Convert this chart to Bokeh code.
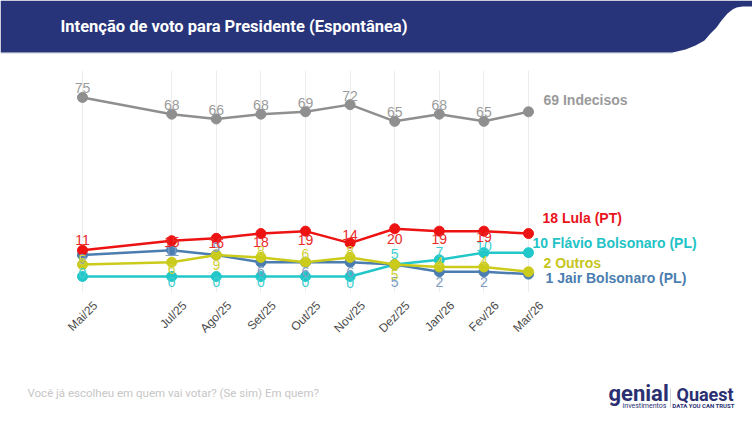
import math
from bokeh.plotting import figure
from bokeh.models import Range1d, LinearAxis, FixedTicker, ColumnDataSource, Grid
from bokeh.layouts import column
from bokeh.embed import file_html
from bokeh.resources import INLINE
from bokeh.core.properties import value

# ---------------- data ----------------
months = [0, 2, 3, 4, 5, 6, 7, 8, 9, 10]
month_labels = ["Mai/25", "Jul/25", "Ago/25", "Set/25", "Out/25",
                "Nov/25", "Dez/25", "Jan/26", "Fev/26", "Mar/26"]
indecisos = [75, 68, 66, 68, 69, 72, 65, 68, 65, 69]
lula = [11, 15, 16, 18, 19, 14, 20, 19, 19, 18]
flavio = [0, 0, 0, 0, 0, 0, 5, 7, 10, 10]
outros = [5, 6, 9, 8, 6, 8, 5, 4, 4, 2]
jair = [9, 11, 9, 6, 6, 6, 5, 2, 2, 1]
series_names = ["Indecisos", "Lula (PT)", "Flávio Bolsonaro (PL)", "Outros", "Jair Bolsonaro (PL)"]
title_text = "Intenção de voto para Presidente (Espontânea)"
question_text = "Você já escolheu em quem vai votar? (Se sim) Em quem?"

# ---------------- styles ----------------
series = [
    # values, name, line color, label color, end label color, label offsets (px, +down), end dx, end dy
    (flavio, series_names[2], "#22c7c9", "#3fcfd1", "#22c3c6", [-4, 5, 5, 5, 5, 6, -11, -8, -7], 4, -10),
    (jair, series_names[4], "#4b7db0", "#7d9dc4", "#4b7db0", [4, 1, -8, 9, 10, 10, 17, 10, 10], 17, 4),
    (outros, series_names[3], "#cbcb1c", "#d2d23a", "#c6c61c", [-5, 7, 10, -6, -8, -6, 10, -5, -6], 15, -9),
    (lula, series_names[1], "#ee1313", "#ea2a2a", "#e8141c", [-10, 1, 5, 8, 9, -8, 10, 8, 6], 14, -16),
    (indecisos, series_names[0], "#8f8f8f", "#9b9b9b", "#9a9a9a", [-9] * 9, 15, -12),
]

W = 752
HEADER_H = 54
CHART_H = 316
FOOTER_H = 53
NAVY = "#28347a"

def blank(h, xr, yr):
    f = figure(width=W, height=h, output_backend="svg", toolbar_location=None,
               x_range=xr, y_range=yr, x_axis_location=None, y_axis_location=None,
               min_border=0, outline_line_color=None, title=None)
    f.grid.visible = False
    f.background_fill_color = "white"
    f.border_fill_color = "white"
    return f

# ---------------- header ----------------
header = blank(HEADER_H, Range1d(0, W), Range1d(0, HEADER_H))
def hy(page_y):
    return HEADER_H - page_y

edge_x = [0, 752, 752, 742, 736, 732, 727, 721, 716, 710, 704, 695, 685, 672, 0]
edge_y = [0, 0, 6, 6, 7, 9, 13, 20, 27, 33, 40, 45, 49, 52, 52]
header.line([0, 672], [hy(53), hy(53)], line_color="#e2e4ec", line_width=1.5)
header.patch(edge_x, [hy(v) for v in edge_y], fill_color=NAVY, line_color=None)
header.text(x=[60], y=[hy(26)], text=[title_text], text_color="white",
            text_font=value("Roboto"), text_font_style="bold", text_font_size="16.5px",
            text_baseline="middle", text_align="left")

# ---------------- chart ----------------
px_per_month = 44.6
x0 = -82 / px_per_month
x1 = x0 + W / px_per_month
y0, y1 = -6.7, 86.3
shift = 13 / px_per_month

p = figure(width=W, height=CHART_H, output_backend="svg", toolbar_location=None,
           x_range=Range1d(x0, x1), y_range=Range1d(y0, y1),
           x_axis_location=None, y_axis_location=None, title=None,
           min_border_top=16, min_border_bottom=78, min_border_left=0, min_border_right=0,
           outline_line_color=None)
p.grid.visible = False
p.background_fill_color = "white"
p.border_fill_color = "white"
p.add_layout(Grid(dimension=0, ticker=FixedTicker(ticks=months),
                  grid_line_color="#ececec", grid_line_width=1))

p.extra_x_ranges = {"lab": Range1d(x0 - shift, x1 - shift)}
ax = LinearAxis(x_range_name="lab", ticker=FixedTicker(ticks=months),
                major_label_overrides={m: l for m, l in zip(months, month_labels)},
                major_label_orientation=math.pi / 4,
                axis_line_color=None, major_tick_line_color=None, minor_tick_line_color=None,
                major_tick_in=0, major_tick_out=0, major_label_standoff=11,
                major_label_text_font="Liberation Sans",
                major_label_text_font_size="12px", major_label_text_color="#4a4a4a")
p.add_layout(ax, "below")

for vals, nm, lc, tc, ec, dys, edx, edy in series:
    p.line(months, vals, line_color=lc, line_width=2.5)
    p.scatter(months, vals, size=10, fill_color=lc, line_color=lc)

for vals, nm, lc, tc, ec, dys, edx, edy in series:
    src = ColumnDataSource(dict(x=months[:-1], y=vals[:-1],
                                t=[str(v) for v in vals[:-1]], dy=dys))
    p.text(x="x", y="y", text="t", y_offset="dy", source=src,
           text_align="center", text_baseline="middle", text_color=tc,
           text_font=value("Liberation Sans"), text_font_size="14px")

for vals, nm, lc, tc, ec, dys, edx, edy in series:
    p.text(x=[months[-1]], y=[vals[-1]], text=[f"{vals[-1]} {nm}"],
           x_offset=edx, y_offset=edy, text_align="left", text_baseline="middle",
           text_color=ec, text_font=value("Liberation Sans"), text_font_style="bold",
           text_font_size="14px")

# ---------------- footer ----------------
footer = blank(FOOTER_H, Range1d(0, W), Range1d(0, FOOTER_H))
def fy(page_y):
    return 423 - page_y

footer.text(x=[27], y=[fy(392)], text=[question_text], text_color="#c6c6c6",
            text_font=value("Roboto"), text_font_size="11.5px",
            text_baseline="middle", text_align="left")
footer.text(x=[608], y=[fy(393)], text=["genial"], text_color="#2a2f72",
            text_font=value("Roboto"), text_font_style="bold", text_font_size="22px",
            text_baseline="middle", text_align="left")
footer.text(x=[644], y=[fy(405)], text=["investimentos"], text_color="#2a2f72",
            text_font=value("Roboto"), text_font_size="7px",
            text_baseline="middle", text_align="center")
footer.line([670, 670], [fy(407), fy(388)], line_color="#d0d0d8", line_width=1)
footer.text(x=[676], y=[fy(394)], text=["Quaest"], text_color="#2a2f72",
            text_font=value("Roboto"), text_font_style="bold", text_font_size="18px",
            text_baseline="middle", text_align="left")
footer.text(x=[703], y=[fy(405)], text=["DATA YOU CAN TRUST"], text_color="#2a2f72",
            text_font=value("Roboto"), text_font_style="bold", text_font_size="6px",
            text_baseline="middle", text_align="center")

layout = column(header, p, footer, spacing=0)
open("out.html", "w").write(file_html(layout, INLINE))
